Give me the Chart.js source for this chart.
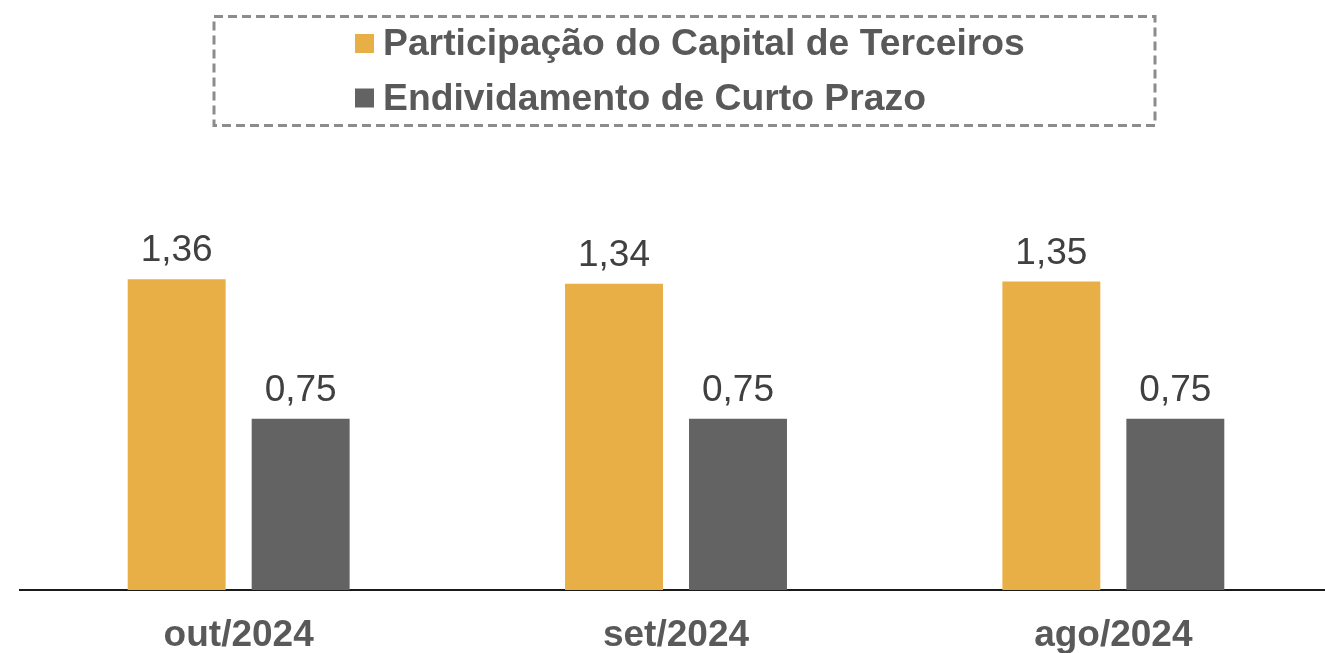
<!DOCTYPE html>
<html>
<head>
<meta charset="utf-8">
<script src="https://cdn.jsdelivr.net/npm/chart.js@4/dist/chart.umd.min.js"></script>
<style>
    html, body { margin: 0; padding: 0; background: #fff; overflow: hidden; }
    #wrap { width: 1325px; height: 653px; overflow: hidden; }
</style>
</head>
<body>
<div id="wrap"><canvas id="grafico" width="1332" height="653"></canvas></div>
<script>
// Dados
const meses = ['out/2024', 'set/2024', 'ago/2024'];
const participacao = [1.36, 1.34, 1.35];
const endividamento = [0.75, 0.75, 0.75];
const series = ['Participação do Capital de Terceiros', 'Endividamento de Curto Prazo'];

const fonte = '"Liberation Sans", Arial, sans-serif';

// Rótulos com os valores em cima das barras
const rotulosValores = {
    id: 'rotulosValores',
    afterDatasetsDraw(chart) {
        const ctx = chart.ctx;
        ctx.save();
        ctx.font = '37px ' + fonte;
        ctx.fillStyle = '#404040';
        ctx.textAlign = 'center';
        ctx.textBaseline = 'alphabetic';
        chart.data.datasets.forEach((ds, i) => {
            chart.getDatasetMeta(i).data.forEach((bar, j) => {
                ctx.fillText(ds.data[j].toFixed(2).replace('.', ','), bar.x, bar.y - 18);
            });
        });
        ctx.restore();
    }
};

// Legenda com borda tracejada
const legendaTracejada = {
    id: 'legendaTracejada',
    afterDraw(chart) {
        const ctx = chart.ctx;
        ctx.save();
        ctx.strokeStyle = '#8c8c8c';
        ctx.lineWidth = 3;
        ctx.setLineDash([9, 5]);
        ctx.strokeRect(214, 16.5, 941, 109);
        ctx.setLineDash([]);
        ctx.font = 'bold 37.3px ' + fonte;
        ctx.textBaseline = 'alphabetic';
        ctx.textAlign = 'left';
        chart.data.datasets.forEach((ds, i) => {
            const base = 55 + i * 54.5;
            ctx.fillStyle = ds.backgroundColor;
            ctx.fillRect(355, base - 21, 19, 19);
            ctx.fillStyle = '#595959';
            ctx.fillText(ds.label, 383, base);
        });
        ctx.restore();
    }
};

const ctx = document.getElementById('grafico').getContext('2d');
const grafico = new Chart(ctx, {
    type: 'bar',
    data: {
        labels: meses,
        datasets: [{
            label: series[0],
            data: participacao,
            backgroundColor: '#e9af47',
            categoryPercentage: 0.567,
            barPercentage: 0.79
        }, {
            label: series[1],
            data: endividamento,
            backgroundColor: '#636363',
            categoryPercentage: 0.567,
            barPercentage: 0.79
        }]
    },
    options: {
        responsive: false,
        animation: false,
        layout: { padding: { top: 133, left: 20, right: 0, bottom: 0 } },
        plugins: {
            legend: { display: false },
            tooltip: { enabled: false }
        },
        scales: {
            y: {
                display: false,
                min: 0,
                max: 2.0
            },
            x: {
                grid: { display: false, drawTicks: false },
                border: { display: true, color: '#1a1a1a', width: 2 },
                ticks: {
                    color: '#595959',
                    font: { family: fonte, size: 37, weight: 'bold' },
                    padding: 24
                },
                afterFit: (scale) => { scale.height = 63; }
            }
        }
    },
    plugins: [rotulosValores, legendaTracejada]
});
</script>
</body>
</html>
